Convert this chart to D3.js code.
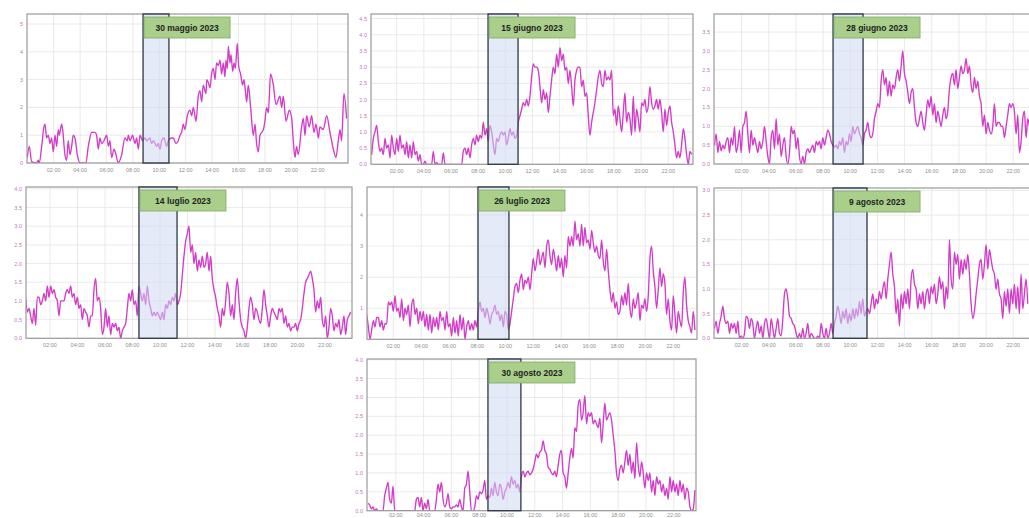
<!DOCTYPE html>
<html>
<head>
<meta charset="utf-8">
<script src="https://cdn.jsdelivr.net/npm/d3@7"></script>
<style>
  body { margin: 0; background: #fff; }
  svg { display: block; }
  .tick-y { font: 5.5px "Liberation Sans", Arial, sans-serif; fill: #c27ab6; }
  .tick-x { font: 5.5px "Liberation Sans", Arial, sans-serif; fill: #8e8e8e; }
  .title { font: bold 8.5px "Liberation Sans", Arial, sans-serif; fill: #1e1e1e; }
</style>
</head>
<body>
<svg width="1029" height="518"></svg>
<script>
// day titles
const titles = ['30 maggio 2023', '15 giugno 2023', '28 giugno 2023', '14 luglio 2023',
                '26 luglio 2023', '9 agosto 2023', '30 agosto 2023'];
const hourTicks = [2, 4, 6, 8, 10, 12, 14, 16, 18, 20, 22];
// highlighted window (hours)
const windowStart = [8.77, 8.73, 8.73, 8.47, 8.05, 8.73, 8.63];
const windowEnd   = [10.73, 10.94, 10.94, 11.24, 10.26, 11.23, 11.0];
// y tick values per panel
const yTicks = [
  [0, 1, 2, 3, 4, 5],
  [0, 0.5, 1, 1.5, 2, 2.5, 3, 3.5, 4, 4.5],
  [0, 0.5, 1, 1.5, 2, 2.5, 3, 3.5],
  [0, 0.5, 1, 1.5, 2, 2.5, 3, 3.5, 4],
  [1, 2, 3, 4],
  [0, 0.5, 1, 1.5, 2, 2.5, 3],
  [0, 0.5, 1, 1.5, 2, 2.5, 3, 3.5, 4]
];

// 30 maggio: [hour, value]
const may30 = [[0,0.2],[0.15,0.6],[0.33,0.05],[0.7,0],[0.83,0.1],[0.9,0],[1.09,0.6],[1.26,1.3],[1.34,1.4],[1.46,0.9],
[1.59,1.0],[1.72,0.7],[1.84,0.9],[1.97,0.4],[2.1,1.0],[2.22,0.6],[2.35,1.2],[2.42,1.0],[2.6,1.4],[2.68,1.2],
[2.85,0.3],[2.98,0.1],[3.1,0.8],[3.23,0.3],[3.36,0.6],[3.48,1.0],[3.61,0.9],[3.79,0.3],[3.99,0],[4.44,0],
[4.62,0.6],[4.7,0.8],[4.87,1.1],[5.13,1.1],[5.25,1.0],[5.38,0.5],[5.5,0.9],[5.63,0.7],[5.81,0.8],[6.01,1.0],
[6.14,0.6],[6.26,0.8],[6.39,0.2],[6.57,0.5],[6.72,0.3],[6.89,0],[7.15,0.3],[7.4,0.9],[7.58,0.8],[7.65,1.0],
[7.78,0.8],[7.98,1.0],[8.16,0.7],[8.28,0.9],[8.41,0.5],[8.54,1.0],[8.74,0.8],[8.91,0.9],[9.04,0.8],[9.29,0.9],
[9.42,0.7],[9.55,0.8],[9.8,0.6],[9.92,0.7],[10.05,0.5],[10.18,0.8],[10.35,0.9],[10.56,0.6],[10.68,0.8],[10.93,0.9],
[11.06,0.9],[11.26,0.7],[11.44,0.8],[11.57,1.0],[11.69,1.1],[11.82,1.4],[11.94,1.2],[12.12,1.7],[12.32,1.9],[12.45,1.7],
[12.58,2.0],[12.78,1.5],[12.95,2.4],[13.08,2.6],[13.21,2.2],[13.33,2.8],[13.54,2.5],[13.59,3.0],[13.71,2.9],[13.84,2.7],
[13.96,3.2],[14.09,3.4],[14.22,3.0],[14.34,3.6],[14.47,3.5],[14.6,3.7],[14.72,3.2],[14.85,3.6],[14.97,3.1],[15.05,3.7],
[15.15,3.4],[15.23,4.2],[15.35,3.6],[15.43,3.9],[15.56,3.3],[15.66,3.6],[15.76,3.4],[15.91,4.3],[16.01,3.5],[16.16,3.2],
[16.31,2.8],[16.41,3.0],[16.52,2.6],[16.62,2.2],[16.74,2.8],[16.92,2.0],[17.12,1.0],[17.25,1.4],[17.37,0.7],[17.5,0.4],
[17.63,1.0],[17.88,1.2],[18.0,1.5],[18.13,2.0],[18.26,1.8],[18.43,3.2],[18.64,2.8],[18.84,2.1],[19.14,2.4],[19.27,2.0],
[19.39,2.4],[19.6,1.5],[19.85,1.9],[20.03,1.6],[20.15,0.8],[20.28,0.2],[20.4,0.6],[20.53,0.3],[20.78,1.3],[20.91,1.6],
[21.04,1.0],[21.16,1.7],[21.36,1.3],[21.54,1.7],[21.72,1.1],[21.87,1.4],[22.05,0.9],[22.17,1.3],[22.42,1.2],[22.68,1.7],
[22.93,1.1],[23.18,0.5],[23.38,0.2],[23.56,0.8],[23.69,1.2],[23.81,0.8],[23.99,2.5],[24.19,1.6]];

// other days: regular samples, first sample time and spacing in hours
const sampleStart = [null, 0.16, 0, 0.23, 0.1, 0, 0];
const sampleStep  = [null, 0.1227, 0.1227, 0.1212, 0.119, 0.1227, 0.12];

const jun15 = [0.3,0.8,1.0,1.2,0.7,0.4,0.5,0.3,0.8,0.5,0.6,0.2,0.9,0.5,0.3,0.8,0.4,0.9,0.5,0.6,
0.3,0.7,0.2,0.6,0.2,0.7,0.3,0.4,0.1,0.3,0,0,0.1,0,0,0,0,0.4,0,0.05,
0,0,0,0.35,0,0,0,0,0,0,0,0,0,0,0,0.4,0.5,0.3,0.5,0.2,
0.6,0.8,0.6,0.9,0.7,0.9,0.8,1.3,0.9,1.1,0.7,1.2,1.0,0.6,0.3,0.8,0.7,0.9,1.0,0.9,
1.0,0.6,0.8,1.1,0.9,1.0,0.8,0.9,1.3,1.5,1.7,1.9,1.8,2.0,1.8,2.1,2.7,3.1,3.0,3.0,
2.9,2.4,1.9,2.3,2.0,2.2,1.6,2.1,2.6,3.0,2.8,3.4,3.0,3.6,3.2,3.4,2.9,3.0,2.5,2.9,
2.4,1.8,2.6,2.9,3.0,3.0,2.4,2.6,2.1,2.2,1.5,0.9,1.3,1.6,1.9,2.3,2.7,2.9,2.5,2.4,
2.9,2.6,2.7,2.6,2.9,1.5,1.7,1.2,1.8,1.4,1.0,1.6,2.2,1.3,1.6,1.4,0.9,2.1,1.0,1.7,
1.4,1.0,1.9,1.8,2.0,1.6,1.8,2.4,1.9,1.7,1.8,2.0,1.7,2.0,1.6,1.0,1.7,1.2,1.6,1.8,
1.3,1.0,0.6,0.2,0.4,0.2,0.6,1.1,0.8,0.3,0.0,0.4,0.3];

const jun28 = [0.5,0.8,0.3,0.6,0.35,0.5,0.4,0.6,0.7,0.3,0.7,0.5,1.0,0.3,0.5,0.9,0.3,1.0,1.1,1.4,
0.8,0.3,0.9,0.5,0.7,0.5,0.3,0.6,0.4,0.6,1.0,0.6,0.2,0.0,0.7,0.9,0.4,1.2,0.5,0.8,
0.2,0.5,0.7,0.2,0.0,0.3,1.0,0.8,0.9,0.4,0.7,0.2,0.0,0.2,0.0,0.3,0.4,0.3,0.4,0.5,
0.3,0.6,0.5,0.6,0.4,0.7,0.5,0.7,0.9,0.8,0.6,0.5,0.45,0.5,0.4,0.6,0.5,0.7,0.3,0.6,
0.5,0.8,0.6,1.0,0.8,0.9,1.0,0.8,0.7,0.5,0.8,0.9,1.1,0.8,0.7,0.8,1.2,1.4,1.6,1.5,
2.2,2.5,2.1,2.3,1.8,2.2,1.8,2.1,2.0,2.3,2.5,2.2,2.6,3.0,2.4,2.2,1.9,1.6,1.9,2.0,
1.5,1.1,1.0,1.2,1.4,1.1,0.9,1.3,1.7,1.5,1.8,1.3,1.6,1.1,1.4,1.2,1.0,1.3,1.5,1.2,
1.4,2.0,2.3,2.4,2.1,2.5,2.0,2.3,2.6,2.4,2.5,2.8,2.4,2.6,2.1,1.9,2.3,2.0,2.2,1.8,
1.6,1.0,1.3,0.8,1.1,0.9,0.8,1.0,1.6,1.0,1.1,1.1,1.0,1.0,0.7,1.0,1.3,1.6,1.5,1.6,
1.4,0.8,1.3,0.3,0.6,1.2,1.4,0.7,1.2,1.0];

const jul14 = [1.1,0.7,0.8,0.6,0.4,0.8,0.35,1.1,1.1,0.9,1.0,1.2,1.0,1.4,1.1,1.4,1.2,1.3,1.1,1.0,
0.6,1.0,1.0,1.0,1.2,1.3,1.2,1.4,1.1,1.2,0.9,1.1,0.8,0.9,0.5,0.8,0.7,0.6,0.3,0.6,
0.6,1.3,1.6,1.0,1.1,0.8,0.1,0.3,0.8,0.3,0.6,0.1,0.4,0.3,0.4,0.2,0.3,0.0,0.2,0.3,
0.4,0.8,1.2,1.0,1.3,0.9,1.0,0.6,1.4,1.2,1.0,1.2,0.9,1.4,1.0,0.8,0.6,0.7,0.6,0.7,
0.6,0.5,0.7,0.5,0.9,0.8,1.0,0.9,1.1,1.0,1.2,0.9,1.0,1.2,1.7,2.2,2.6,2.8,3.0,2.3,
2.5,2.0,2.3,1.8,2.1,1.9,2.2,1.9,2.0,2.3,1.8,2.2,1.6,1.3,1.1,0.8,0.6,0.3,0.8,0.6,
1.0,1.5,1.2,0.6,0.9,0.5,1.2,1.6,1.0,0.5,0.3,0.2,0.0,0.3,0.8,1.1,0.9,0.5,0.8,0.7,
0.5,0.4,0.8,1.3,0.9,0.6,0.3,0.6,0.8,0.7,0.6,0.5,0.8,0.7,0.8,0.4,0.6,0.3,0.4,0.2,
0.3,0.3,0.4,0.2,0.4,0.5,0.8,1.2,1.5,1.6,1.7,1.8,1.6,1.3,0.7,1.0,0.8,1.1,0.5,0.3,
0.6,0.0,0.3,0.8,0.6,0.2,0.4,0.3,0.5,0.1,0.3,0.6,0.1,0.5,0.6,0.7];

const jul26 = [0.8,0.4,0.0,0.3,0.6,0.4,0.7,0.7,0.4,0.6,0.3,0.5,0.5,1.2,1.1,1.2,0.9,1.4,0.9,1.0,
0.7,1.3,0.6,1.0,0.8,1.1,0.4,1.1,1.3,0.8,1.0,0.5,0.9,0.6,0.9,0.4,0.8,0.3,0.8,0.2,
0.7,0.4,0.7,0.3,0.9,0.6,0.7,0.3,0.9,0.4,0.5,0.1,0.7,0.2,0.6,0.1,0.8,0.3,0.7,0.0,
0.4,0.6,0.3,0.5,0.3,0.6,0.4,0.9,1.2,0.9,1.0,0.7,1.0,0.8,0.5,0.8,0.9,1.1,0.8,0.9,
0.6,0.8,0.4,0.9,0.8,0.3,0.5,0.9,1.3,1.7,1.8,1.5,1.9,2.1,1.6,1.9,1.8,2.0,1.6,2.1,
2.6,2.2,2.5,2.9,2.4,2.6,2.8,2.3,3.0,3.2,2.7,2.4,2.9,2.6,2.2,2.7,2.3,2.6,2.0,2.7,
2.3,3.3,3.0,3.3,3.0,3.8,3.2,3.4,3.0,3.7,3.0,3.6,3.1,3.2,2.9,3.5,3.1,2.8,3.0,2.7,
2.6,3.2,2.5,2.2,2.9,2.2,1.6,1.2,1.5,1.0,1.2,0.8,0.9,1.4,1.1,1.5,1.1,1.8,1.0,0.7,
1.3,1.0,1.2,1.5,0.6,1.1,1.0,1.3,0.9,1.4,2.6,3.0,2.2,1.7,1.0,1.6,2.3,1.7,2.1,1.8,
0.8,1.3,0.6,0.3,1.4,0.8,0.2,0.9,0.6,0.4,1.5,2.0,1.1,0.6,0.4,0.2,0.9,0.3];

const aug9 = [0.2,0.35,0.1,0.3,0.45,0.65,0.4,0.3,0.35,0.1,0.3,0.2,0.3,0.1,0.35,0.0,0.05,0.0,0.1,0.45,
0.4,0.2,0.4,0.3,0.0,0.2,0.35,0.1,0.25,0.0,0.3,0.4,0.2,0.0,0.4,0.2,0.0,0.2,0.4,0.1,
0.05,0.4,0.9,1.0,0.8,0.45,0.4,0.3,0.25,0.1,0.0,0.1,0.0,0.2,0.0,0.1,0.3,0.0,0.1,0.05,
0.0,0.0,0.05,0.0,0.3,0.1,0.0,0.2,0.0,0.1,0.3,0.1,0.3,0.45,0.65,0.5,0.3,0.55,0.4,0.6,
0.3,0.5,0.35,0.6,0.4,0.6,0.45,0.75,0.5,0.8,0.45,0.55,0.6,0.5,0.7,0.9,0.6,0.8,0.7,0.95,
0.8,1.0,1.15,0.8,1.2,1.5,1.75,1.3,1.05,0.5,0.8,0.25,0.9,0.6,0.95,0.7,1.0,0.6,1.2,1.4,
1.1,1.0,0.6,0.9,0.7,0.95,0.6,0.9,1.0,0.7,1.05,0.9,1.1,0.7,0.9,1.25,1.0,1.15,0.6,1.05,
0.8,2.0,1.2,1.0,1.75,1.5,1.7,1.2,1.6,1.3,1.6,1.4,1.7,1.3,0.7,0.4,0.55,0.9,1.2,1.5,
1.6,1.2,1.5,1.9,1.4,1.8,1.6,1.4,1.3,1.0,1.2,0.9,0.8,0.4,0.95,0.65,1.0,0.5,1.0,0.7,
1.1,0.6,1.05,0.5,1.3,0.6,0.9,1.2,0.7];

const aug30 = [0.2,0.15,0.05,0.1,0.0,0.05,0.0,0.0,0.0,0.0,0.4,0.6,0.75,0.3,0.2,0.65,0.0,0,0,0,
0,0,0,0,0,0,0,0,0.0,0.3,0.35,0.1,0.35,0.0,0.2,0.05,0.3,0.0,0.0,0.0,
0.0,0.3,0.7,0.5,0.75,0.3,0.1,0.2,0.45,0.1,0.05,0.1,0.1,0.15,0.1,0.3,0.1,0.0,0.6,0.7,
1.05,0.5,0.0,0.0,0.1,0.4,0.3,0.5,0.45,0.55,0.8,0.3,0.4,0.35,0.6,0.4,0.75,0.5,0.4,0.7,
0.6,0.3,0.5,0.6,0.75,0.6,0.9,0.7,0.8,0.6,0.7,0.5,0.9,1.05,0.9,1.0,1.05,0.95,1.0,1.1,
1.3,1.5,1.4,1.55,1.6,1.85,1.6,1.5,1.15,1.1,1.0,0.95,1.05,0.9,1.2,1.5,1.6,1.0,0.9,0.6,
1.0,1.4,1.65,1.4,2.2,2.1,2.8,2.95,2.4,2.6,3.05,2.3,2.6,2.5,2.6,2.3,2.4,2.3,2.2,2.45,
1.8,2.3,2.85,2.4,2.5,2.6,2.4,2.0,1.6,1.0,0.8,1.1,1.2,1.0,1.3,1.6,1.2,1.5,1.0,1.3,
0.85,1.8,1.2,0.9,1.3,1.0,0.6,1.0,0.8,1.0,0.5,0.8,0.4,0.9,0.7,0.8,0.5,0.7,0.4,0.6,
0.3,0.9,0.5,0.8,0.5,0.7,0.4,0.8,0.5,0.7,0.3,0.6,0.5,0.1,0.0,0.05,0.55];

const series = [may30, jun15, jun28, jul14, jul26, aug9, aug30];

// where each screenshot sits on the page
const panels = [
  { left: 27,  right: 348,  top: 14,  bottom: 163,   zeroX: 27.3,  perHour: 13.2,  yMax: 5.36, fmt: 'd',   lab: 9 },
  { left: 371, right: 693,  top: 14,  bottom: 164.3, zeroX: 369.5, perHour: 13.58, yMax: 4.64, fmt: '.1f', lab: 9 },
  { left: 714, right: 1045, top: 14,  bottom: 164,   zeroX: 714.5, perHour: 13.58, yMax: 3.98, fmt: '.1f', lab: 9 },
  { left: 26,  right: 352,  top: 187, bottom: 338.3, zeroX: 22.5,  perHour: 13.75, yMax: 4.05, fmt: '.1f', lab: 9 },
  { left: 367, right: 697,  top: 187, bottom: 339.3, zeroX: 365.3, perHour: 14,    yMax: 4.9,  fmt: 'd',   lab: 9 },
  { left: 714, right: 1045, top: 188, bottom: 338.3, zeroX: 714.5, perHour: 13.58, yMax: 3.05, fmt: '.1f', lab: 9 },
  { left: 367, right: 696,  top: 359, bottom: 510.7, zeroX: 368,   perHour: 13.9,  yMax: 4.02, fmt: '.1f', lab: 6.3 }
];

const svg = d3.select('svg');
const defs = svg.append('defs');

panels.forEach((p, i) => {
  const xs = d3.scaleLinear().domain([0, 24]).range([p.zeroX, p.zeroX + 24 * p.perHour]);
  const ys = d3.scaleLinear().domain([0, p.yMax]).range([p.bottom, p.top]);
  const g = svg.append('g');

  defs.append('clipPath').attr('id', 'clip' + i)
    .append('rect')
    .attr('x', p.left).attr('y', p.top)
    .attr('width', p.right - p.left).attr('height', p.bottom - p.top);

  g.append('rect')
    .attr('x', p.left).attr('y', p.top)
    .attr('width', p.right - p.left).attr('height', p.bottom - p.top)
    .attr('fill', '#fff');

  // grid
  g.selectAll('.vg').data(hourTicks).enter().append('line')
    .attr('x1', d => xs(d)).attr('x2', d => xs(d))
    .attr('y1', p.top).attr('y2', p.bottom)
    .attr('stroke', '#e4e4e4').attr('stroke-width', 0.8);
  g.selectAll('.hg').data(yTicks[i]).enter().append('line')
    .attr('x1', p.left).attr('x2', p.right)
    .attr('y1', d => ys(d)).attr('y2', d => ys(d))
    .attr('stroke', '#e4e4e4').attr('stroke-width', 0.8);

  // tick labels
  g.selectAll('.ty').data(yTicks[i]).enter().append('text')
    .attr('class', 'tick-y')
    .attr('x', p.left - 4)
    .attr('y', d => ys(d) + 2)
    .attr('text-anchor', 'end')
    .text(d => d3.format(p.fmt)(d));
  g.selectAll('.tx').data(hourTicks).enter().append('text')
    .attr('class', 'tick-x')
    .attr('x', d => xs(d))
    .attr('y', p.bottom + p.lab)
    .attr('text-anchor', 'middle')
    .text(d => d3.format('02d')(d) + ':00');

  // data line
  let pts;
  if (i === 0) pts = series[0];
  else pts = series[i].map((v, k) => [sampleStart[i] + k * sampleStep[i], v]);

  const line = d3.line()
    .x(d => xs(d[0]))
    .y(d => ys(d[1]))
    .curve(d3.curveMonotoneX);

  g.append('path')
    .datum(pts)
    .attr('clip-path', `url(#clip${i})`)
    .attr('d', line)
    .attr('fill', 'none')
    .attr('stroke', '#d23cc8')
    .attr('stroke-width', 1.35)
    .attr('stroke-linejoin', 'round');

  // border
  g.append('rect')
    .attr('x', p.left).attr('y', p.top)
    .attr('width', p.right - p.left).attr('height', p.bottom - p.top)
    .attr('fill', 'none')
    .attr('stroke', '#9a9a9a').attr('stroke-width', 1.2);

  // highlighted window
  const hx0 = xs(windowStart[i]), hx1 = xs(windowEnd[i]);
  g.append('rect')
    .attr('x', hx0).attr('y', p.top)
    .attr('width', hx1 - hx0).attr('height', p.bottom - p.top)
    .attr('fill', 'rgba(205,217,242,0.55)')
    .attr('stroke', '#2e3744').attr('stroke-width', 1.3);

  // day title box
  g.append('rect')
    .attr('x', hx0 + 1).attr('y', p.top + 3)
    .attr('width', 86).attr('height', 21)
    .attr('fill', '#a9cf8b')
    .attr('stroke', '#7fa865').attr('stroke-width', 0.8);
  g.append('text')
    .attr('class', 'title')
    .attr('x', hx0 + 44).attr('y', p.top + 16.5)
    .attr('text-anchor', 'middle')
    .text(titles[i]);
});
</script>
</body>
</html>
